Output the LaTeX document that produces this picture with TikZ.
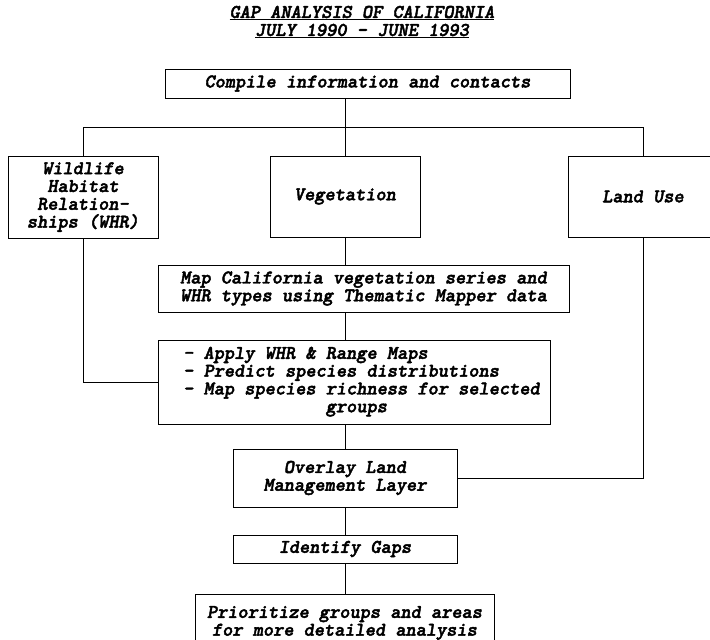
\documentclass[tikz,border=0pt]{standalone}
\usepackage{fontspec}
\newfontfamily\cour{lmmonolt10-boldoblique.otf}[FakeBold=2.2]
\begin{document}
\begin{tikzpicture}[x=1pt,y=-1pt,
  txt/.style={inner sep=0pt, align=center, font=\fontsize{19.4}{17.8}\selectfont\cour},
  box/.style={txt, draw, line width=1pt},
  conn/.style={line width=1pt}]
\useasboundingbox (0,0) rectangle (710,640);
\clip (0,0) rectangle (710,640);
% title
\node[txt] (title1) at (362,13) {\underline{GAP ANALYSIS OF CALIFORNIA}};
\node[txt] (title2) at (362,31) {\underline{JULY 1990 - JUNE 1993}};
% boxes
\node[box, minimum width=405pt, minimum height=29pt] (compile) at (367.5,83.5) {Compile information and contacts};
\node[box, minimum width=150pt, minimum height=82pt] (whr) at (83,197) {Wildlife\\Habitat\\Relation-\\ships (WHR)};
\node[box, minimum width=150pt, minimum height=81pt] (veg) at (345,196.5) {Vegetation};
\node[box, minimum width=150pt, minimum height=81pt] (land) at (643,196.5) {Land Use};
\node[box, minimum width=411pt, minimum height=47pt] (map) at (363.5,288.5) {Map California vegetation series and\\WHR types using Thematic Mapper data};
\node[box, minimum width=392pt, minimum height=84pt] (apply) at (354,382)
  {\begin{tabular}{@{\hspace{15pt}}l@{}}- Apply WHR \& Range Maps\\- Predict species distributions\\- Map species richness for selected\\\phantom{- Map species }groups\end{tabular}};
\node[box, minimum width=224pt, minimum height=58pt] (overlay) at (345,478) {Overlay Land\\Management Layer};
\node[box, minimum width=224pt, minimum height=28pt] (gaps) at (345,549) {Identify Gaps};
\node[box, minimum width=299pt, minimum height=58pt] (prio) at (344.5,623) {Prioritize groups and areas\\for more detailed analysis};
% connectors
\coordinate (bus) at (0,127);
\draw[conn] (compile.south -| veg.north) -- (veg.north);
\draw[conn] (whr.north) -- (whr.north |- bus) -- (land.north |- bus) -- (land.north);
\draw[conn] (veg.south) -- (map.north -| veg.south);
\draw[conn] (map.south -| veg.south) -- (apply.north -| veg.south);
\draw[conn] (whr.south) |- (apply.west);
\draw[conn] (apply.south -| overlay.north) -- (overlay.north);
\draw[conn] (land.south) |- (overlay.east);
\draw[conn] (overlay.south) -- (gaps.north);
\draw[conn] (gaps.south) -- (prio.north -| gaps.south);
\end{tikzpicture}
\end{document}
